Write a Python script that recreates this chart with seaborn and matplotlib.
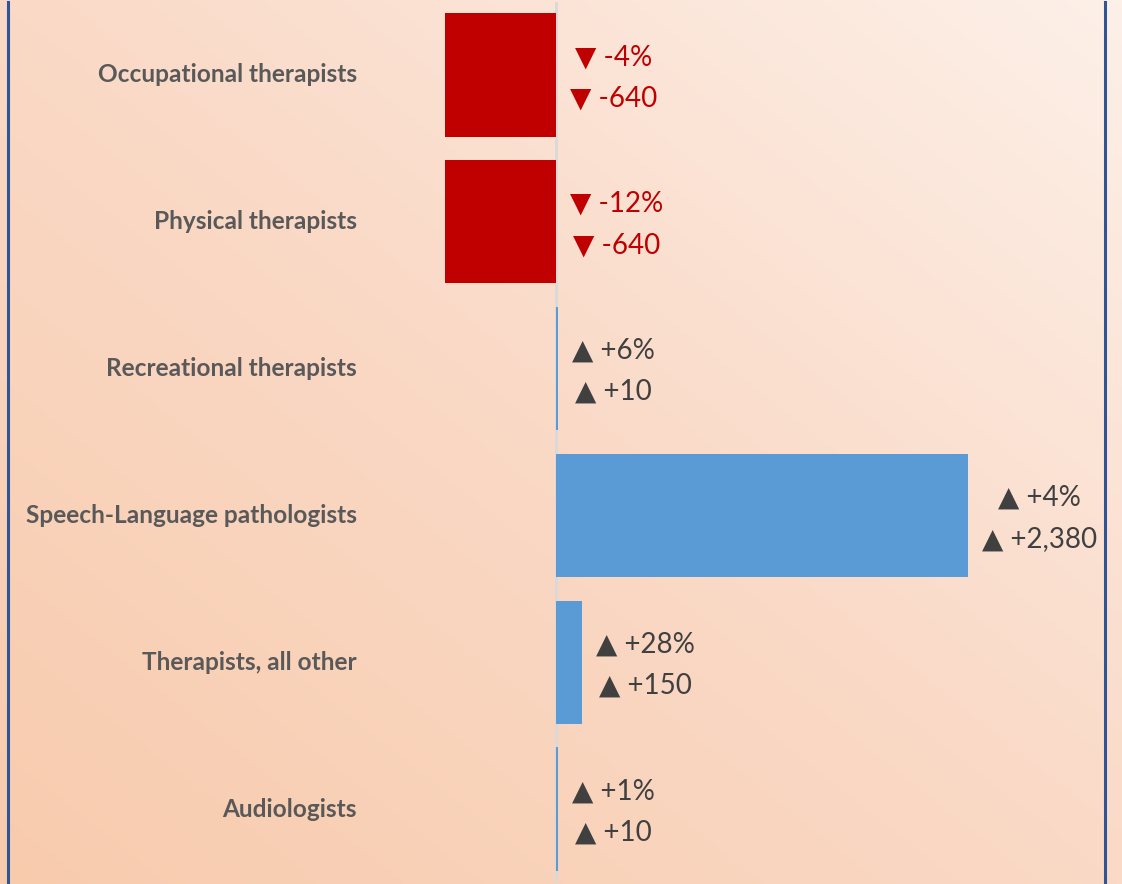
import numpy as np
import pandas as pd
import matplotlib
matplotlib.use("Agg")
import matplotlib.pyplot as plt
import seaborn as sns
from matplotlib.colors import LinearSegmentedColormap

# data
categories = ['Occupational therapists', 'Physical therapists', 'Recreational therapists',
              'Speech-Language pathologists', 'Therapists, all other', 'Audiologists']
change = [-640, -640, 10, 2380, 150, 10]
pct_labels = ['-4%', '-12%', '+6%', '+4%', '+28%', '+1%']
num_labels = ['-640', '-640', '+10', '+2,380', '+150', '+10']

df = pd.DataFrame({'cat': categories, 'change': change})

sns.set_theme(style='white')
plt.rcParams['font.family'] = ['Lato', 'DejaVu Sans']

W, H = 1122, 884
fig = plt.figure(figsize=(W / 100, H / 100), dpi=100)

# gradient background, darker peach bottom-left -> lighter top-right
bg = fig.add_axes([0, 0, 1, 1], zorder=0)
gx, gy = np.meshgrid(np.linspace(0, 1, 300), np.linspace(0, 1, 300))
grad = (gx + gy) / 2
cmap = LinearSegmentedColormap.from_list('peach', ['#F8CBAD', '#FAD9C6', '#FDF0E8'])
bg.imshow(grad, cmap=cmap, origin='lower', aspect='auto', extent=[0, 1, 0, 1])
bg.axis('off')

# plot area, in pixels: x 8..1105, zero line at 556, 2380 at 968
left_px, right_px, zero_px = 8, 1105, 556
scale = (968 - zero_px) / 2380
ax = fig.add_axes([left_px / W, 1.5 / H, (right_px - left_px) / W, 881 / H], zorder=1)
ax.patch.set_alpha(0)

colors = {c: ('#C00000' if v < 0 else '#5B9BD5') for c, v in zip(categories, change)}
sns.barplot(data=df, x='change', y='cat', hue='cat', palette=colors, orient='h',
            width=0.84, saturation=1, linewidth=0, legend=False, ax=ax, zorder=2)

ax.set_xlim(-(zero_px - left_px) / scale, (right_px - zero_px) / scale)
ax.set_ylim(len(categories) - 0.5, -0.5)
ax.axvline(0, color='#D9D9D9', lw=2, zorder=1)

ax.set_xticks([])
ax.set_yticks([])
ax.set_xlabel('')
ax.set_ylabel('')
for s in ['top', 'bottom']:
    ax.spines[s].set_visible(False)
for s in ['left', 'right']:
    ax.spines[s].set_color('#2F5597')
    ax.spines[s].set_linewidth(2.2)

# category labels
label_x = (357 - left_px) / (right_px - left_px)
for i, c in enumerate(categories):
    ax.text(label_x, i, c, transform=ax.get_yaxis_transform(), ha='right', va='center',
            fontsize=17.6, fontweight='bold', color='#595959')

# value labels
for i, v in enumerate(change):
    if v < 0:
        mark, col = '\u25BC', '#C00000'
    else:
        mark, col = '\u25B2', '#404040'
    txt = mark + ' ' + pct_labels[i] + '\n' + mark + ' ' + num_labels[i]
    ax.annotate(txt, xy=(max(v, 0), i), xytext=(10, -2), textcoords='offset points',
                ha='left', va='center', multialignment='center', linespacing=1.72,
                fontsize=20, color=col)

fig.savefig('out.png', dpi=100)
